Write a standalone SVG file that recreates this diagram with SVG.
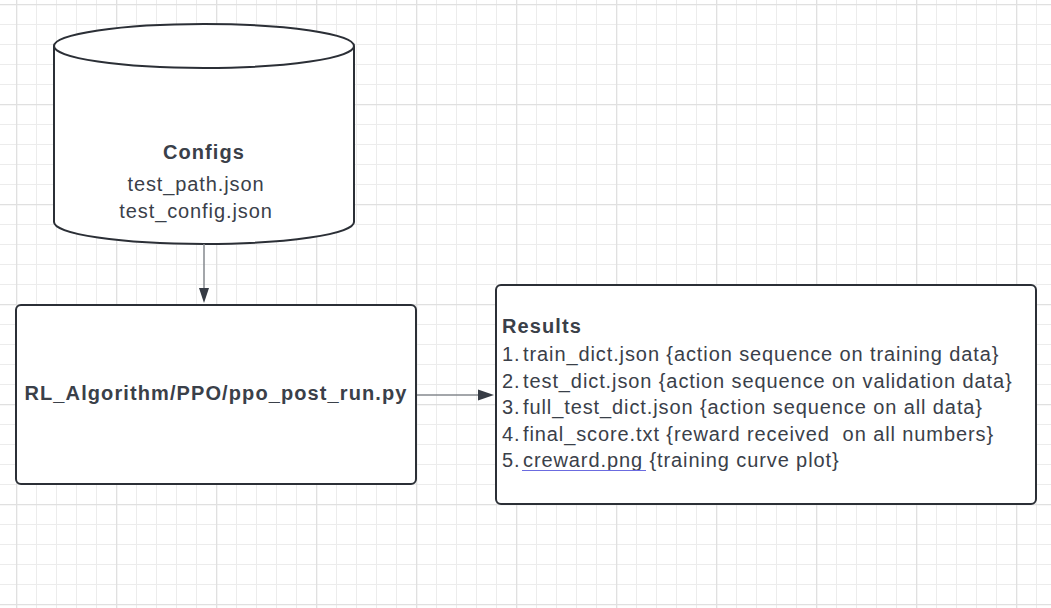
<svg xmlns="http://www.w3.org/2000/svg" width="1051" height="608" viewBox="0 0 1051 608">
  <defs>
    <pattern id="grid" patternUnits="userSpaceOnUse" x="16" y="4" width="100" height="100">
      <rect width="100" height="100" fill="#ffffff"/>
      <path d="M20.5,0V100M40.5,0V100M60.5,0V100M80.5,0V100M0,20.5H100M0,40.5H100M0,60.5H100M0,80.5H100" stroke="#ececec" stroke-width="1" fill="none"/>
      <path d="M0.5,0V100M0,0.5H100" stroke="#e0e0e0" stroke-width="1.6" fill="none"/>
    </pattern>
    <style>
      .shape { fill: #ffffff; stroke: #2b2f36; stroke-width: 2; }
      .txt { font-family: "Liberation Sans", Arial, sans-serif; font-size: 20px; fill: #3a4049; letter-spacing: 0.9px; }
      .bold { font-weight: bold; letter-spacing: 1.1px; }
      .conn { stroke: #85888e; stroke-width: 1.5; fill: none; }
      .head { fill: #363b44; }
    </style>
  </defs>
  <rect width="1051" height="608" fill="url(#grid)"/>

  <g id="configs">
    <path class="shape" d="M54,46 L54,222 A150,22 0 0,0 354,222 L354,46"/>
    <ellipse class="shape" cx="204" cy="46" rx="150" ry="22"/>
    <text class="txt bold" x="204" y="159" text-anchor="middle">Configs</text>
    <text class="txt" x="196" y="191" text-anchor="middle">test_path.json</text>
    <text class="txt" x="196" y="218" text-anchor="middle">test_config.json</text>
  </g>

  <g id="ppo_post_run">
    <rect class="shape" x="16" y="305" width="400" height="179" rx="5" ry="5"/>
    <text class="txt bold" x="216" y="400" text-anchor="middle">RL_Algorithm/PPO/ppo_post_run.py</text>
  </g>

  <g id="results">
    <rect class="shape" x="496" y="285" width="540" height="219" rx="5" ry="5"/>
    <text class="txt bold" x="502" y="333">Results</text>
    <text class="txt" x="502" y="361">1.</text>
    <text class="txt" x="523" y="361">train_dict.json {action sequence on training data}</text>
    <text class="txt" x="502" y="388">2.</text>
    <text class="txt" x="523" y="388">test_dict.json {action sequence on validation data}</text>
    <text class="txt" x="502" y="414">3.</text>
    <text class="txt" x="523" y="414">full_test_dict.json {action sequence on all data}</text>
    <text class="txt" x="502" y="441">4.</text>
    <text class="txt" x="523" y="441" xml:space="preserve">final_score.txt {reward received  on all numbers}</text>
    <text class="txt" x="502" y="467">5.</text>
    <text class="txt" x="523" y="467">creward.png {training curve plot}</text>
    <line x1="522" y1="470.5" x2="646" y2="470.5" stroke="#6b6be0" stroke-width="1.2"/>
  </g>

  <g id="connectors">
    <line class="conn" x1="204" y1="244" x2="204" y2="290"/>
    <polygon class="head" points="199,288 209,288 204,303"/>
    <line class="conn" x1="417" y1="395" x2="480" y2="395"/>
    <polygon class="head" points="478,389.5 478,400.5 494,395"/>
  </g>
</svg>
